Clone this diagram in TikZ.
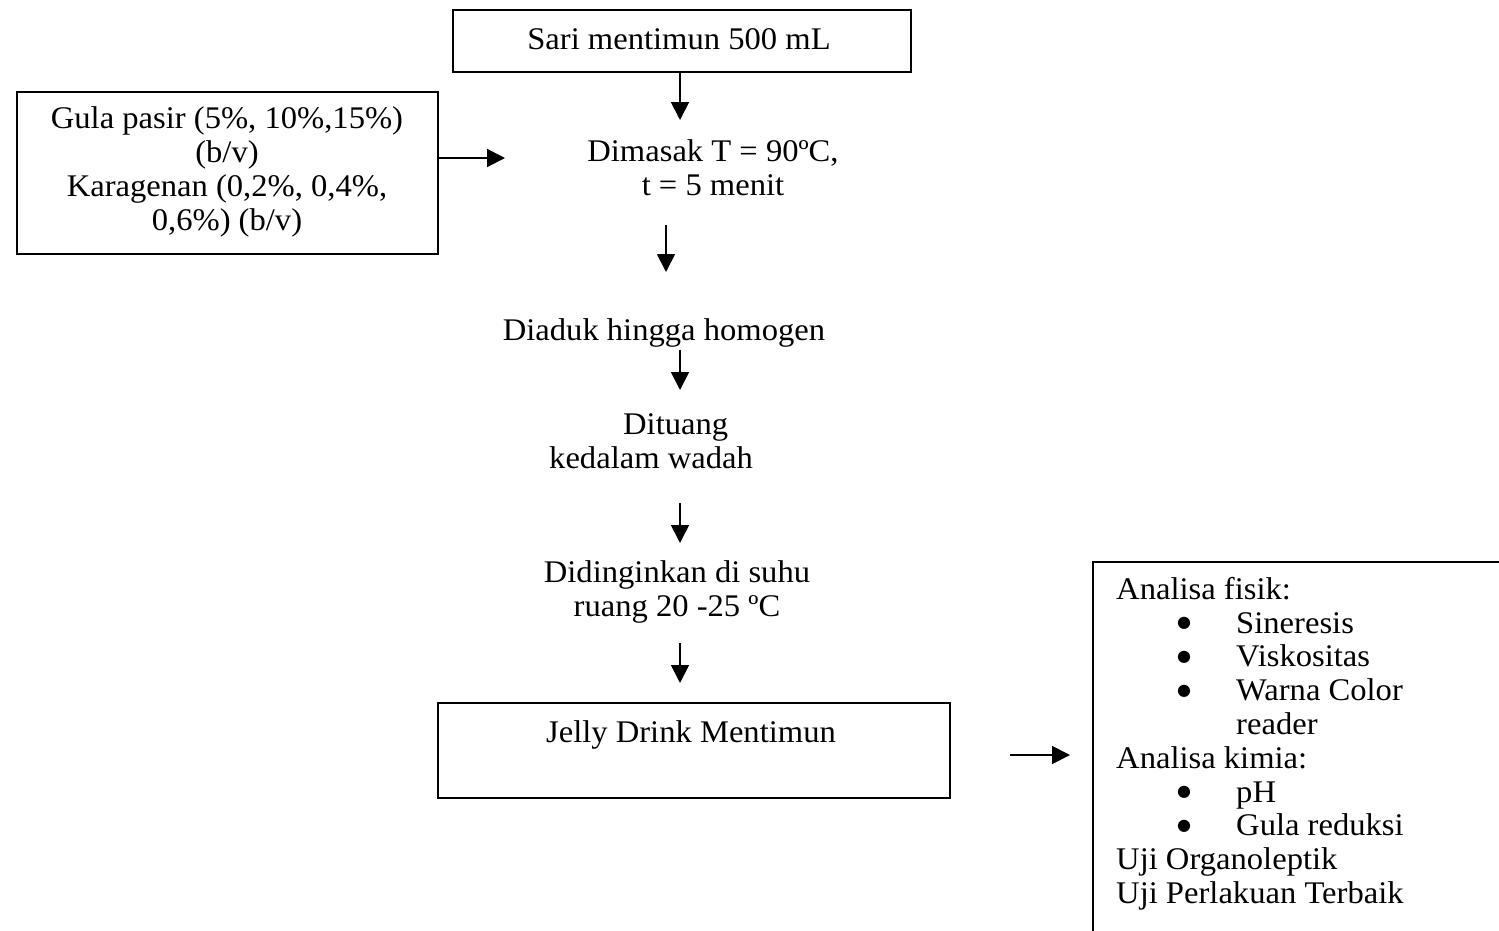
\documentclass[tikz,border=0pt]{standalone}
\usepackage{fontspec}
\setmainfont{Liberation Serif}[FakeStretch=1.035]
\newfontfamily\dejavu{DejaVu Sans}
\usetikzlibrary{arrows.meta}
\tikzset{
  box/.style={draw, line width=1.6pt, inner sep=0pt},
  txt/.style={inner sep=0pt, font=\fontsize{31.5}{33.8}\selectfont},
  arr/.style={line width=1.8pt, -{Triangle[length=18pt,width=18pt]}}
}
\newcommand{\bigbul}{\raisebox{5.5pt}{\dejavu\fontsize{16}{16}\selectfont ●}}
\begin{document}
\begin{tikzpicture}[x=1pt,y=-1pt]
\useasboundingbox (0,0) rectangle (1499,930);
\clip (0,0) rectangle (1499,930);
% top box
\node[box, minimum width=458pt, minimum height=62pt] (box1) at (682,41) {};
\node[txt] (sari) at (679,39) {Sari mentimun 500 mL};
% left box
\node[box, minimum width=421pt, minimum height=162pt] (gula) at (227.5,173) {};
\node[txt, align=center] (gulatxt) at (227,172) {Gula pasir (5\%, 10\%,15\%)\\(b/v)\\Karagenan (0,2\%, 0,4\%,\\0,6\%) (b/v)};
% steps
\node[txt, align=center] (masak) at (713,168) {Dimasak T = 90ºC,\\t = 5 menit};
\node[txt] (aduk) at (664,333) {Diaduk hingga homogen};
\node[txt, align=left, anchor=west] (tuang) at (549,441) {\hspace*{74pt}Dituang\\kedalam wadah};
\node[txt, align=center] (dingin) at (677,592) {Didinginkan di suhu\\ruang 20 -25 ºC};
% jelly box
\node[box, minimum width=512pt, minimum height=95pt] (jellybox) at (694,750.5) {};
\node[txt] (jelly) at (691,735) {Jelly Drink Mentimun};
% analysis box (cut by the page edges)
\coordinate (rbl) at (1093,940);
\coordinate (rtr) at (1510,562);
\draw[line width=1.6pt] (rbl) |- (rtr);
\node[txt, align=left, anchor=north west] (anal) at (1116,577) {%
Analisa fisik:\\
\makebox[120pt][l]{\hspace*{61pt}\bigbul}Sineresis\\
\makebox[120pt][l]{\hspace*{61pt}\bigbul}Viskositas\\
\makebox[120pt][l]{\hspace*{61pt}\bigbul}Warna Color\\
\hspace*{120pt}reader\\
Analisa kimia:\\
\makebox[120pt][l]{\hspace*{61pt}\bigbul}pH\\
\makebox[120pt][l]{\hspace*{61pt}\bigbul}Gula reduksi\\
Uji Organoleptik\\
Uji Perlakuan Terbaik};
% arrow coordinates
\coordinate (a1e) at (680,120);
\coordinate (a2e) at (505,158);
\coordinate (a3s) at (666,225);
\coordinate (a3e) at (666,272);
\coordinate (a4s) at (680,350);
\coordinate (a4e) at (680,390);
\coordinate (a5s) at (680,503);
\coordinate (a5e) at (680,543);
\coordinate (a6s) at (680,643);
\coordinate (a6e) at (680,683);
\coordinate (a7s) at (1010,755);
\coordinate (a7e) at (1070,755);
\draw[arr] (box1.south -| a1e) -- (a1e);
\draw[arr] (gula.east |- a2e) -- (a2e);
\draw[arr] (a3s) -- (a3e);
\draw[arr] (a4s) -- (a4e);
\draw[arr] (a5s) -- (a5e);
\draw[arr] (a6s) -- (a6e);
\draw[arr] (a7s) -- (a7e);
\end{tikzpicture}
\end{document}
